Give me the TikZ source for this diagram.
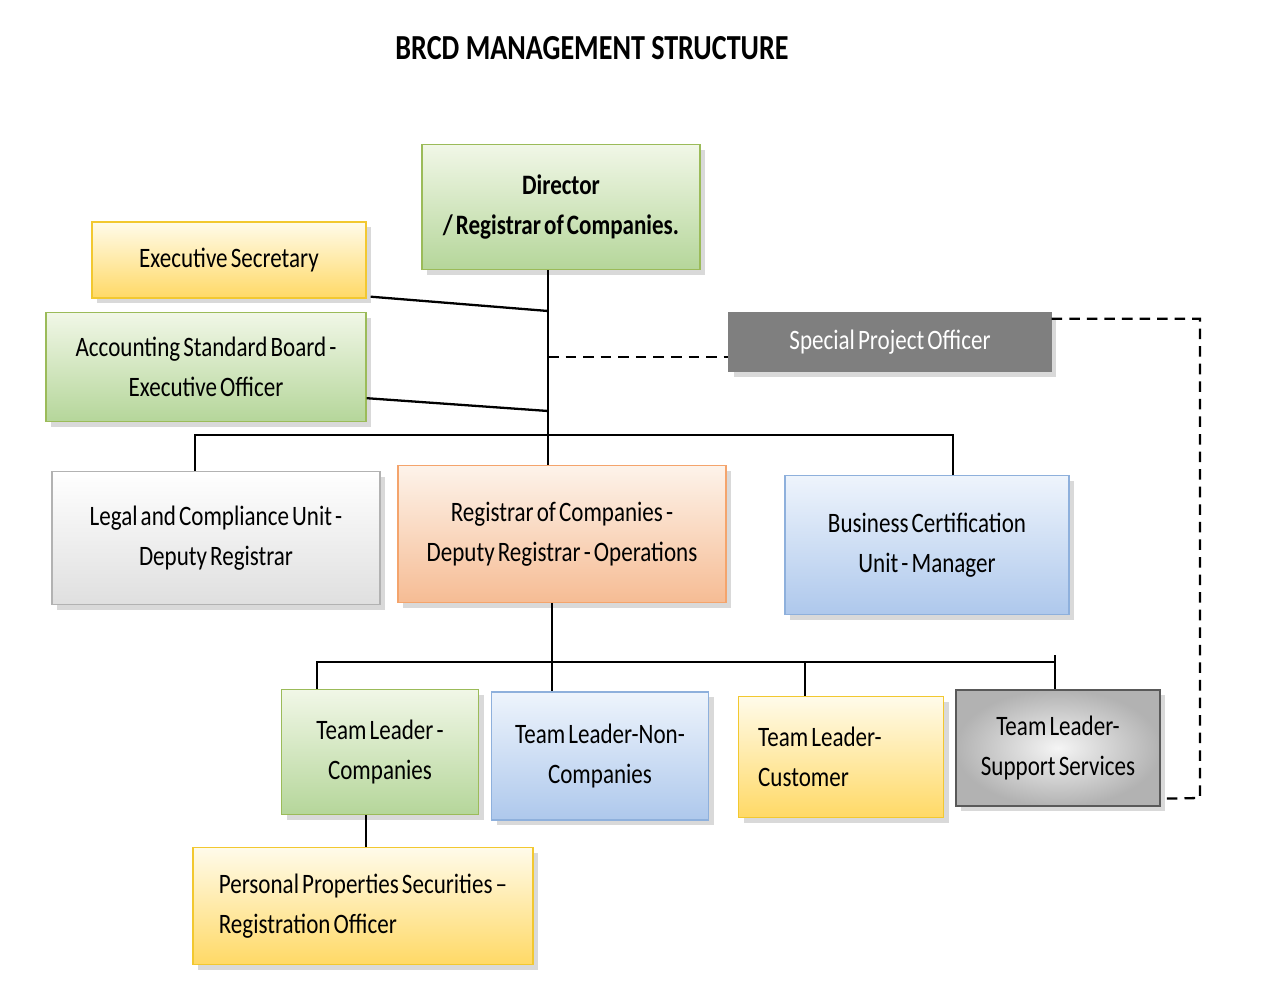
\documentclass[tikz,border=0pt]{standalone}
\usepackage{fontspec}
\setmainfont{Carlito}[FakeStretch=0.82, WordSpace=0.6]
\newfontfamily\titlefont{Carlito}[FakeStretch=0.8]
\usetikzlibrary{shadows,calc}
\definecolor{grnline}{HTML}{9BBB59}
\definecolor{grntop}{HTML}{F1F7E7}
\definecolor{grnbot}{HTML}{B5D69A}
\definecolor{ylwline}{HTML}{F2C830}
\definecolor{ylwtop}{HTML}{FFFBEA}
\definecolor{ylwbot}{HTML}{FFD966}
\definecolor{orgline}{HTML}{F4A46C}
\definecolor{orgtop}{HTML}{FDF3EA}
\definecolor{orgbot}{HTML}{F6BC94}
\definecolor{bluline}{HTML}{8EB0DC}
\definecolor{blutop}{HTML}{EEF4FC}
\definecolor{blubot}{HTML}{AEC8EC}
\definecolor{spogray}{HTML}{7F7F7F}
\begin{document}
\begin{tikzpicture}[x=0.02cm,y=-0.02cm,
  box/.style={draw, rectangle, align=center, line width=0.8pt,
    font=\fontsize{16}{23}\selectfont,
    drop shadow={opacity=0.3, shadow xshift=3pt, shadow yshift=-3pt}},
  greenbox/.style={box, draw=grnline, top color=grntop, bottom color=grnbot},
  yellowbox/.style={box, draw=ylwline, top color=ylwtop, bottom color=ylwbot},
  orangebox/.style={box, draw=orgline, top color=orgtop, bottom color=orgbot},
  bluebox/.style={box, draw=bluline, top color=blutop, bottom color=blubot},
  whitebox/.style={box, draw=gray!60, top color=white, bottom color=gray!25},
  greybox/.style={box, draw=gray!70!black, inner color=gray!8, outer color=gray!60},
  link/.style={draw, line width=1.3pt},
  dashlink/.style={draw, line width=1.3pt, dash pattern=on 6pt off 4pt}]
\useasboundingbox (0,0) rectangle (1285,996);

\node[font=\fontsize{20}{23}\titlefont\bfseries] (title) at (592,48) {BRCD MANAGEMENT STRUCTURE};

\node[greenbox, minimum width=5.56cm, minimum height=2.5cm, font=\fontsize{16}{23}\selectfont\bfseries] (dir) at (561,207) {Director\\/ Registrar of Companies.};
\node[yellowbox, minimum width=5.48cm, minimum height=1.52cm] (sec) at (229,260) {Executive Secretary};
\node[greenbox, minimum width=6.4cm, minimum height=2.18cm] (asb) at (206,367) {Accounting Standard Board -\\Executive Officer};
\node[box, draw=spogray, fill=spogray, text=white, minimum width=6.44cm, minimum height=1.18cm] (spo) at (890,342) {Special Project Officer};

\node[whitebox, minimum width=6.56cm, minimum height=2.66cm] (legal) at (216,538) {Legal and Compliance Unit -\\Deputy Registrar};
\node[orangebox, minimum width=6.56cm, minimum height=2.74cm] (rocdr) at (562,534) {Registrar of Companies -\\Deputy Registrar - Operations};
\node[bluebox, minimum width=5.68cm, minimum height=2.78cm] (bcu) at (927,545) {Business Certification\\Unit - Manager};

\node[greenbox, minimum width=3.94cm, minimum height=2.5cm] (tlc) at (380,752) {Team Leader -\\Companies};
\node[bluebox, minimum width=4.34cm, minimum height=2.56cm] (tln) at (600,756) {Team Leader-Non-\\Companies};
\node[yellowbox, align=left, minimum width=4.1cm, minimum height=2.42cm] (tlcu) at (841,757) {Team Leader-\hspace*{1.5em}\\Customer};
\node[greybox, minimum width=4.08cm, minimum height=2.32cm] (tls) at (1058,748) {Team Leader-\\Support Services};

\node[yellowbox, align=left, minimum width=6.8cm, minimum height=2.34cm] (pps) at (363,906) {Personal Properties Securities --\\Registration Officer};

% upper level
\coordinate (spine) at (548,0);
\coordinate (j1) at (548,311);
\coordinate (j2) at (548,357);
\coordinate (j3) at (548,411);
\coordinate (busL) at (195,435);
\coordinate (busR) at (953,435);
\path[link] (dir.south -| spine) -- (rocdr.north -| spine);
\path[link] ($(sec.south east)+(4,-2)$) -- (j1);
\path[link] ($(asb.south east)+(0,-24)$) -- (j3);
\path[dashlink] (j2) -- (j2 -| spo.west);
\path[link] (legal.north -| busL) -- (busL) -- (busR) -- (bcu.north -| busR);

% lower level
\coordinate (spine2) at (552,0);
\coordinate (bus2L) at (317,662);
\coordinate (bus2R) at (1055,662);
\coordinate (drop3) at (805,662);
\path[link] (rocdr.south -| spine2) -- (tln.north -| spine2);
\path[link] (tlc.north -| bus2L) -- (bus2L) -- (bus2R);
\path[link] (drop3) -- (tlcu.north -| drop3);
\path[link] ($(bus2R)+(0,-7)$) -- (tls.north -| bus2R);
\coordinate (pline) at (366,0);
\path[link] (tlc.south -| pline) -- (pps.north -| pline);

% special project loop
\coordinate (loop) at (1200,798);
\path[dashlink] ($(spo.north east)+(0,7)$) -| (loop) -- ($(tls.south east)+(0,-8)$);
\end{tikzpicture}
\end{document}
